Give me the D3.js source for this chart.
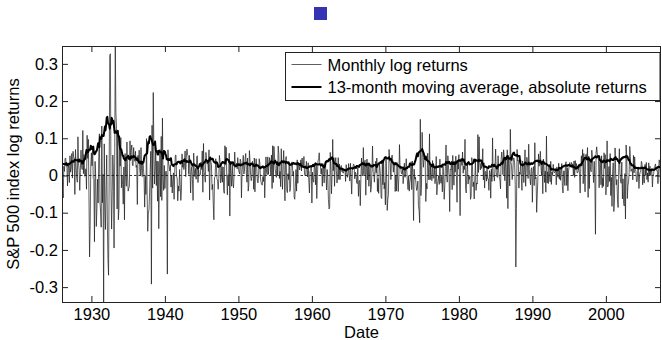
<!DOCTYPE html>
<html><head><meta charset="utf-8">
<script src="https://cdn.jsdelivr.net/npm/d3@7"></script>
<style>
html,body{margin:0;padding:0;background:#fff;}
svg{display:block;font-family:Arial,"Liberation Sans",Helvetica,sans-serif;}
</style></head><body>
<svg id="chart" width="662" height="340"></svg>
<script>
// ---- data: S&P 500 monthly log returns, Jan 1926 .. Jul 2007 ----
const startYear = 1926;
const r1920s = [
 0.000,-0.040,-0.060,0.025,0.011,0.045,0.047,0.025,0.025,-0.028,0.034,0.019,
 -0.019,0.053,0.009,0.020,0.059,-0.007,0.065,0.051,0.044,-0.051,0.070,0.028,
 -0.004,-0.018,0.104,0.034,0.014,-0.040,0.014,0.068,0.026,0.016,0.121,0.005,
 0.056,-0.002,-0.001,0.018,-0.037,0.108,0.046,0.097,-0.049,-0.219,-0.134,0.028];
const r1930s = [
 0.061,0.026,0.078,-0.008,-0.010,-0.178,0.038,0.001,-0.137,-0.090,-0.010,-0.074,
 0.049,0.112,-0.069,-0.099,-0.139,0.133,-0.073,0.003,-0.352,0.085,-0.083,-0.145,
 -0.027,0.055,-0.123,-0.223,-0.268,-0.002,0.323,0.327,-0.036,-0.144,-0.043,0.055,
 0.009,-0.195,0.034,0.355,0.170,0.126,-0.090,0.114,-0.119,-0.090,0.107,0.025,
 0.102,-0.033,0.000,-0.025,-0.077,0.023,-0.119,0.059,-0.003,-0.029,0.090,0.000,
 -0.042,-0.035,-0.029,0.093,0.040,0.068,0.082,0.028,0.026,0.075,0.046,0.038,
 0.065,0.022,0.027,-0.078,0.054,0.032,0.068,0.015,0.000,0.075,0.013,-0.003,
 0.038,0.019,-0.008,-0.085,-0.002,-0.051,0.099,-0.049,-0.150,-0.103,-0.091,-0.047,
 0.015,0.065,-0.292,0.135,-0.034,0.223,0.071,-0.023,0.017,0.075,-0.027,0.039,
 -0.069,0.038,-0.143,-0.003,0.070,-0.057,0.105,-0.067,0.154,-0.012,-0.040,0.027];
const r1940s = [
 -0.035,0.007,0.012,-0.002,-0.265,0.069,0.033,0.024,0.012,0.028,-0.031,0.001,
 -0.047,-0.014,0.007,-0.064,0.007,0.054,0.055,-0.002,-0.007,-0.068,-0.028,-0.042,
 0.016,-0.024,-0.067,-0.041,0.058,0.022,0.033,0.016,0.028,0.066,-0.003,0.049,
 0.071,0.056,0.053,0.003,0.054,0.022,-0.047,0.011,0.024,-0.011,-0.067,0.060,
 0.015,-0.003,0.019,-0.010,0.050,0.053,-0.019,0.016,-0.001,0.000,0.002,0.036,
 0.016,0.066,-0.045,0.086,0.011,-0.001,-0.018,0.062,0.043,0.031,0.038,0.011,
 0.069,-0.066,0.047,0.038,0.029,-0.038,-0.024,-0.077,-0.119,-0.006,-0.003,0.045,
 0.026,-0.008,-0.015,-0.037,-0.009,0.054,0.037,-0.020,-0.011,0.024,-0.018,0.023,
 -0.041,-0.048,0.080,0.029,0.076,0.001,-0.052,0.002,-0.028,0.060,-0.109,0.031,
 0.004,-0.029,0.031,-0.019,-0.033,0.002,0.063,0.022,0.026,0.033,0.018,0.048];
const r1950s = [
 0.017,0.010,0.004,0.044,0.038,-0.060,0.008,0.032,0.054,0.004,0.017,0.045,
 0.059,0.006,-0.018,0.047,-0.042,-0.026,0.067,0.038,-0.001,-0.014,-0.003,0.038,
 0.016,-0.037,0.047,-0.044,0.023,0.045,0.018,-0.015,-0.020,-0.001,0.045,0.034,
 -0.007,-0.018,-0.024,-0.026,-0.003,-0.016,0.025,-0.060,0.001,0.050,0.009,0.002,
 0.050,0.003,0.030,0.048,0.032,0.001,0.055,-0.035,0.080,-0.019,0.078,0.050,
 0.018,0.004,-0.005,0.037,-0.001,0.079,0.059,-0.008,0.011,-0.030,0.072,-0.001,
 -0.037,0.034,0.067,-0.002,-0.068,0.038,0.051,-0.039,-0.046,0.005,-0.011,0.034,
 -0.043,-0.034,0.020,0.036,0.036,-0.001,0.011,-0.058,-0.064,-0.033,0.016,-0.042,
 0.042,-0.021,0.031,0.031,0.015,0.026,0.042,0.012,0.047,0.025,0.022,0.051,
 0.004,-0.001,0.001,0.038,0.019,-0.004,0.034,-0.015,-0.047,0.011,0.013,0.028];
const r1960s = [
 -0.074,0.009,-0.014,-0.018,0.027,0.020,-0.025,0.026,-0.062,-0.002,0.039,0.045,
 0.061,0.027,0.026,0.004,0.019,-0.029,0.032,0.020,-0.020,0.028,0.038,0.003,
 -0.039,0.016,-0.006,-0.064,-0.090,-0.086,0.062,0.015,-0.049,0.004,0.097,0.013,
 0.048,-0.029,0.034,0.048,0.014,-0.020,-0.003,0.048,-0.011,0.031,-0.011,0.024,
 0.027,0.010,0.015,0.006,0.011,0.016,0.018,-0.016,0.029,0.008,-0.005,0.004,
 0.032,-0.001,-0.015,0.033,-0.008,-0.050,0.013,0.023,0.031,0.027,-0.009,0.009,
 0.005,-0.018,-0.022,0.021,-0.056,-0.016,-0.013,-0.081,-0.007,0.047,0.003,-0.001,
 0.075,0.002,0.038,0.041,-0.053,0.018,0.044,-0.012,0.032,-0.029,0.001,0.026,
 -0.045,-0.031,0.009,0.079,0.011,0.009,-0.018,0.011,0.038,0.007,0.047,-0.043,
 -0.008,-0.048,0.033,0.021,-0.002,-0.058,-0.062,0.039,-0.025,0.043,-0.036,-0.019];
const r1970s = [
 -0.079,0.052,0.001,-0.094,-0.063,-0.051,0.070,0.043,0.032,-0.011,0.046,0.055,
 0.039,0.009,0.036,0.035,-0.043,0.001,-0.042,0.035,-0.007,-0.043,-0.003,0.083,
 0.018,0.025,0.006,0.004,0.017,-0.022,0.002,0.033,-0.005,0.009,0.045,0.012,
 -0.017,-0.038,-0.001,-0.042,-0.019,-0.007,0.037,-0.038,0.039,-0.001,-0.121,0.017,
 -0.010,-0.004,-0.023,-0.040,-0.035,-0.015,-0.081,-0.094,-0.127,0.151,-0.054,-0.020,
 0.116,0.058,0.022,0.046,0.043,0.043,-0.070,-0.021,-0.036,0.060,0.025,-0.012,
 0.112,-0.011,0.031,-0.011,-0.014,0.040,-0.008,-0.005,0.023,-0.022,-0.008,0.051,
 -0.052,-0.022,-0.014,0.000,-0.024,0.044,-0.016,-0.021,-0.002,-0.044,0.027,0.003,
 -0.064,-0.025,0.025,0.082,0.004,-0.018,0.053,0.026,-0.007,-0.097,0.017,0.015,
 0.039,-0.038,0.054,0.002,-0.026,0.038,0.009,0.052,0.000,-0.072,0.042,0.017];
const r1980s = [
 0.056,-0.004,-0.108,0.040,0.046,0.027,0.063,0.006,0.025,0.016,0.097,-0.035,
 -0.047,0.013,0.035,-0.023,-0.002,-0.010,-0.002,-0.064,-0.056,0.048,0.036,-0.030,
 -0.018,-0.063,-0.010,0.039,-0.040,-0.020,-0.023,0.110,0.008,0.104,0.035,0.015,
 0.032,0.019,0.032,0.072,-0.012,0.034,-0.034,0.011,0.010,-0.015,0.017,-0.009,
 -0.009,-0.040,0.013,0.005,-0.061,0.017,-0.016,0.101,-0.003,0.000,-0.015,0.022,
 0.071,0.009,-0.003,-0.005,0.053,0.012,-0.005,-0.012,-0.036,0.042,0.063,0.044,
 0.002,0.069,0.052,-0.014,0.049,0.014,-0.061,0.069,-0.089,0.054,0.021,-0.028,
 0.124,0.036,0.026,-0.011,0.006,0.047,0.047,0.034,-0.024,-0.246,-0.089,0.070,
 0.039,0.041,-0.034,0.009,0.003,0.042,-0.005,-0.040,0.039,0.026,-0.019,0.015,
 0.069,-0.029,0.021,0.049,0.034,-0.008,0.084,0.016,-0.007,-0.025,0.017,0.021];
const r1990s = [
 -0.072,0.009,0.024,-0.027,0.088,-0.009,-0.005,-0.099,-0.052,-0.007,0.058,0.025,
 0.041,0.065,0.022,0.000,0.038,-0.049,0.044,0.020,-0.019,0.012,-0.045,0.106,
 -0.020,0.010,-0.022,0.028,0.001,-0.017,0.038,-0.024,0.009,0.002,0.030,0.010,
 0.007,0.010,0.019,-0.025,0.023,0.001,-0.005,0.033,-0.010,0.019,-0.013,0.010,
 0.032,-0.030,-0.047,0.012,0.012,-0.027,0.031,0.037,-0.027,0.021,-0.041,0.012,
 0.024,0.035,0.027,0.028,0.035,0.021,0.031,0.000,0.039,-0.005,0.040,0.017,
 0.032,0.007,0.008,0.013,0.023,0.002,-0.047,0.019,0.053,0.026,0.070,-0.022,
 0.059,0.006,-0.044,0.056,0.057,0.042,0.075,-0.059,0.052,-0.035,0.044,0.016,
 0.010,0.068,0.049,0.009,-0.019,0.038,-0.012,-0.158,0.060,0.077,0.057,0.054,
 0.040,-0.033,0.038,0.037,-0.025,0.053,-0.033,-0.006,-0.029,0.061,0.019,0.056];
const r2000s = [
 -0.052,-0.020,0.093,-0.031,-0.022,0.024,-0.016,0.059,-0.054,-0.005,-0.083,0.004,
 0.034,-0.097,-0.066,0.074,0.005,-0.025,-0.011,-0.066,-0.086,0.018,0.072,0.008,
 -0.016,-0.021,0.036,-0.063,-0.009,-0.075,-0.082,0.005,-0.117,0.082,0.055,-0.062,
 -0.027,-0.017,0.008,0.078,0.050,0.011,0.016,0.018,-0.012,0.054,0.007,0.050,
 0.017,0.012,-0.016,-0.017,0.012,0.018,-0.035,0.002,0.009,0.014,0.038,0.032,
 -0.025,0.019,-0.019,-0.020,0.030,0.000,0.035,-0.011,0.007,-0.018,0.034,-0.001,
 0.025,0.000,0.011,0.012,-0.031,0.000,0.005,0.021,0.025,0.031,0.016,0.013,
 0.014,-0.022,0.010,0.042,0.032,-0.018,-0.033];
const maWindow = 13;
const xTickValues = [1930,1940,1950,1960,1970,1980,1990,2000];
const yTickValues = [-0.3,-0.2,-0.1,0,0.1,0.2,0.3];
const yDomain = [-0.34, 0.348];
const seriesLabels = ["Monthly log returns","13-month moving average, absolute returns"];
const xAxisTitle = "Date";
const yAxisTitle = "S&P 500 index log returns";

// ---- build series ----
const logReturns = [].concat(r1920s, r1930s, r1940s, r1950s, r1960s, r1970s, r1980s, r1990s, r2000s);
const monthly = logReturns.map((v, i) => ({t: startYear + i / 12, v}));
const half = Math.floor(maWindow / 2);
const movingAvg = monthly.map((d, i) => {
  const w = logReturns.slice(Math.max(0, i - half), Math.min(logReturns.length, i + half + 1));
  return {t: d.t, v: d3.mean(w, x => Math.abs(x))};
});

// ---- layout ----
const L = 62, R = 661, T = 46, B = 302;
const svg = d3.select("#chart");
const x = d3.scaleLinear().domain(d3.extent(monthly, d => d.t)).range([L, R]);
const y = d3.scaleLinear().domain(yDomain).range([B, T]);
const fs = "16.5px";

svg.append("defs").append("clipPath").attr("id", "clip")
  .append("rect").attr("x", L).attr("y", T).attr("width", R - L).attr("height", B - T);

// zero reference line
svg.append("line").attr("x1", L).attr("x2", R).attr("y1", y(0)).attr("y2", y(0))
  .attr("stroke", "#000").attr("stroke-width", 0.8).attr("stroke-dasharray", "2.5,2");

const g = svg.append("g").attr("clip-path", "url(#clip)");
const line = d3.line().x(d => x(d.t)).y(d => y(d.v));
g.append("path").datum(monthly).attr("d", line)
  .attr("fill", "none").attr("stroke", "#1a1a1a").attr("stroke-width", 0.7);
g.append("path").datum(movingAvg).attr("d", line)
  .attr("fill", "none").attr("stroke", "#000").attr("stroke-width", 2).attr("stroke-linejoin", "round");

// axes (ticks inward, box)
const fmtY = d => d === 0 ? "0" : String(d);
const ax = (sel) => sel.call(s => s.select(".domain").remove())
  .call(s => s.selectAll(".tick line").attr("stroke", "#222"))
  .call(s => s.selectAll(".tick text").attr("fill", "#000").style("font-size", fs).style("font-family", "Arial,'Liberation Sans',sans-serif"));
svg.append("g").attr("transform", `translate(0,${B})`)
  .call(d3.axisBottom(x).tickValues(xTickValues).tickFormat(d3.format("d")).tickSize(-6).tickSizeOuter(0).tickPadding(6))
  .call(ax);
svg.append("g").attr("transform", `translate(0,${T})`)
  .call(d3.axisTop(x).tickValues(xTickValues).tickFormat("").tickSize(-6).tickSizeOuter(0))
  .call(ax);
svg.append("g").attr("transform", `translate(${L},0)`)
  .call(d3.axisLeft(y).tickValues(yTickValues).tickFormat(fmtY).tickSize(-6).tickSizeOuter(0).tickPadding(4))
  .call(ax);
svg.append("g").attr("transform", `translate(${R},0)`)
  .call(d3.axisRight(y).tickValues(yTickValues).tickFormat("").tickSize(-6).tickSizeOuter(0))
  .call(ax);
svg.append("rect").attr("x", L + 0.5).attr("y", T + 0.5).attr("width", R - L - 1).attr("height", B - T)
  .attr("fill", "none").attr("stroke", "#222").attr("stroke-width", 1);

// axis titles
svg.append("text").attr("x", (L + R) / 2).attr("y", 338).attr("text-anchor", "middle")
  .style("font-size", fs).text(xAxisTitle);
svg.append("text").attr("transform", `translate(19,${(T + B) / 2}) rotate(-90)`).attr("text-anchor", "middle")
  .style("font-size", fs).text(yAxisTitle);

// legend
const lg = svg.append("g");
lg.append("rect").attr("x", 285.5).attr("y", 52.5).attr("width", 374.5).attr("height", 48)
  .attr("fill", "#fff").attr("stroke", "#222").attr("stroke-width", 1);
const rows = [{c: "#1a1a1a", w: 0.7, yy: 64.5}, {c: "#000", w: 2, yy: 87}];
rows.forEach((r, i) => {
  lg.append("line").attr("x1", 291.5).attr("x2", 321.5).attr("y1", r.yy).attr("y2", r.yy)
    .attr("stroke", r.c).attr("stroke-width", r.w);
  lg.append("text").attr("x", 327.5).attr("y", r.yy + 6).style("font-size", fs).text(seriesLabels[i]);
});

// marker square at top
svg.append("rect").attr("x", 314).attr("y", 7).attr("width", 13).attr("height", 13).attr("fill", "#3333b3");
</script>
</body></html>
